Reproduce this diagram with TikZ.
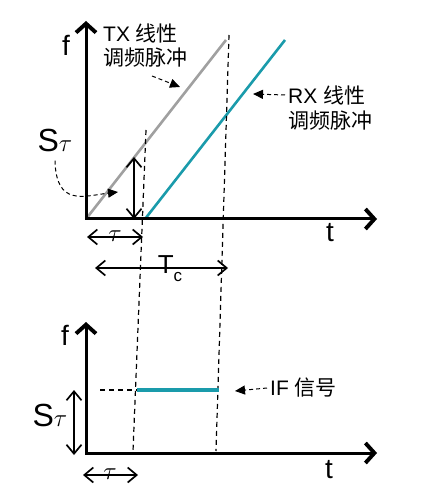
\documentclass[tikz,border=0pt]{standalone}
\usepackage{fontspec}
\setmainfont{Liberation Sans}
\newfontfamily\cjk{Noto Sans CJK SC}
\usetikzlibrary{positioning}
\usetikzlibrary{arrows.meta}

\definecolor{chirpteal}{HTML}{1A9BAB}
\definecolor{chirpgray}{HTML}{A0A0A0}

\begin{document}
\begin{tikzpicture}[x=1pt, y=-1pt,
	axis/.style = {line width=3pt, {Straight Barb[length=9pt, width=20pt, line width=0pt 1.3]}-{Straight Barb[length=9pt, width=20pt, line width=0pt 1.3]}},
	span/.style = {line width=1.4pt, {Straight Barb[length=9pt, width=15pt, line width=0pt 1.2]}-{Straight Barb[length=9pt, width=15pt, line width=0pt 1.2]}},
	pointer/.style = {dashed, line width=1pt, dash pattern=on 4pt off 3pt, -{Triangle[length=10pt, width=9pt]}},
	guide/.style = {dashed, line width=1.2pt, dash pattern=on 5pt off 4pt},
	lbl/.style = {inner sep=0pt, font=\fontsize{21}{24}\selectfont},
	axlbl/.style = {inner sep=0pt, font=\fontsize{28}{30}\selectfont}]
			\useasboundingbox (0,0) rectangle (425,502);
			
			% top plot
			\coordinate (O1) at (86,219);
			\coordinate (F1) at (86,21);
			\coordinate (T1) at (377,219);
			\coordinate (TXend) at (226,40);
			\coordinate (RXstart) at (145,219);
			\coordinate (RXend) at (285,40);
			\coordinate (STtop) at (134,157);
			\coordinate (STbot) at (134,219);
			
			\draw[chirpgray, line width=2.6pt] (O1) -- (TXend);
			\draw[chirpteal, line width=2.6pt] (RXstart) -- (RXend);
			\draw[axis] (F1) -- (O1) -- (T1);
			\draw[span] (STtop) -- (STbot);
			
			\node[axlbl] (f1) at (66,45) {f};
			\node[axlbl] (t1) at (330,233) {t};
			
			\node[lbl, anchor=west] (tx1) at (103,33) {TX {\cjk 线性}};
			\node[lbl, anchor=west] (tx2) at (103,58) {\cjk 调频脉冲};
			\node[lbl, anchor=west] (rx1) at (288,95) {RX {\cjk 线性}};
			\node[lbl, anchor=west] (rx2) at (288,121) {\cjk 调频脉冲};
			\node[inner sep=0pt, font=\fontsize{32}{34}\selectfont] (st1) at (55,140) {S$\tau$};
			
			\coordinate (TXtip) at (180,87);
			\coordinate (TXtail) at (152,76);
			\coordinate (STtip) at (118,192);
			\coordinate (RXtip) at (253,94);
			\draw[pointer] (TXtail) -- (TXtip);
			\draw[pointer] ([yshift=-9pt]st1.south) .. controls (56,207) and (84,196) .. (STtip);
			\draw[pointer] ([xshift=-3pt]rx1.west) -- (RXtip);
			
			% guides
			\coordinate (G1top) at (146,130);
			\coordinate (G1bot) at (133,451);
			\coordinate (G2top) at (229,35);
			\coordinate (G2bot) at (216,451);
			\draw[guide] (G1top) -- (G1bot);
			\draw[guide] (G2top) -- (G2bot);
			
			% delay and chirp time
			\coordinate (TauL1) at (87,237);
			\coordinate (TauR1) at (143,237);
			\coordinate (TcL) at (95,268);
			\coordinate (TcR) at (228,268);
			\draw[span] (TauL1) -- (TauR1);
			\draw[span] (TcL) -- (TcR);
			\node[inner sep=0pt, font=\fontsize{26}{26}\selectfont] (tau1) at (115,236) {$\tau$};
			\node[inner sep=0pt, font=\fontsize{26}{26}\selectfont] (tc) at (170,269) {T\raisebox{-8pt}{\fontsize{17}{17}\selectfont c}};
			
			% bottom plot
			\coordinate (O2) at (86,453);
			\coordinate (F2) at (86,322);
			\coordinate (T2) at (377,453);
			\draw[axis] (F2) -- (O2) -- (T2);
			\node[axlbl] (f2) at (65,335) {f};
			\node[axlbl] (t2) at (329,470) {t};
			
			\coordinate (IFa) at (137,390);
			\coordinate (IFb) at (219,390);
			\coordinate (IFlead) at (100,390);
			\draw[chirpteal, line width=4pt] (IFa) -- (IFb);
			\draw[dashed, line width=1.8pt, dash pattern=on 5pt off 4pt] (IFlead) -- (IFa);
			\node[lbl, anchor=west] (if) at (270,388) {IF {\cjk 信号}};
			\coordinate (IFtip) at (235,391);
			\draw[pointer] ([xshift=-3pt]if.west) -- (IFtip);
			
			\coordinate (STtop2) at (74,390);
			\coordinate (STbot2) at (74,455);
			\draw[span] (STtop2) -- (STbot2);
			\node[inner sep=0pt, font=\fontsize{32}{34}\selectfont] (st2) at (50,415) {S$\tau$};
			
			\coordinate (TauL2) at (83,475);
			\coordinate (TauR2) at (138,475);
			\draw[span] (TauL2) -- (TauR2);
			\node[inner sep=0pt, font=\fontsize{26}{26}\selectfont] (tau2) at (110,474) {$\tau$};
\end{tikzpicture}
\end{document}
